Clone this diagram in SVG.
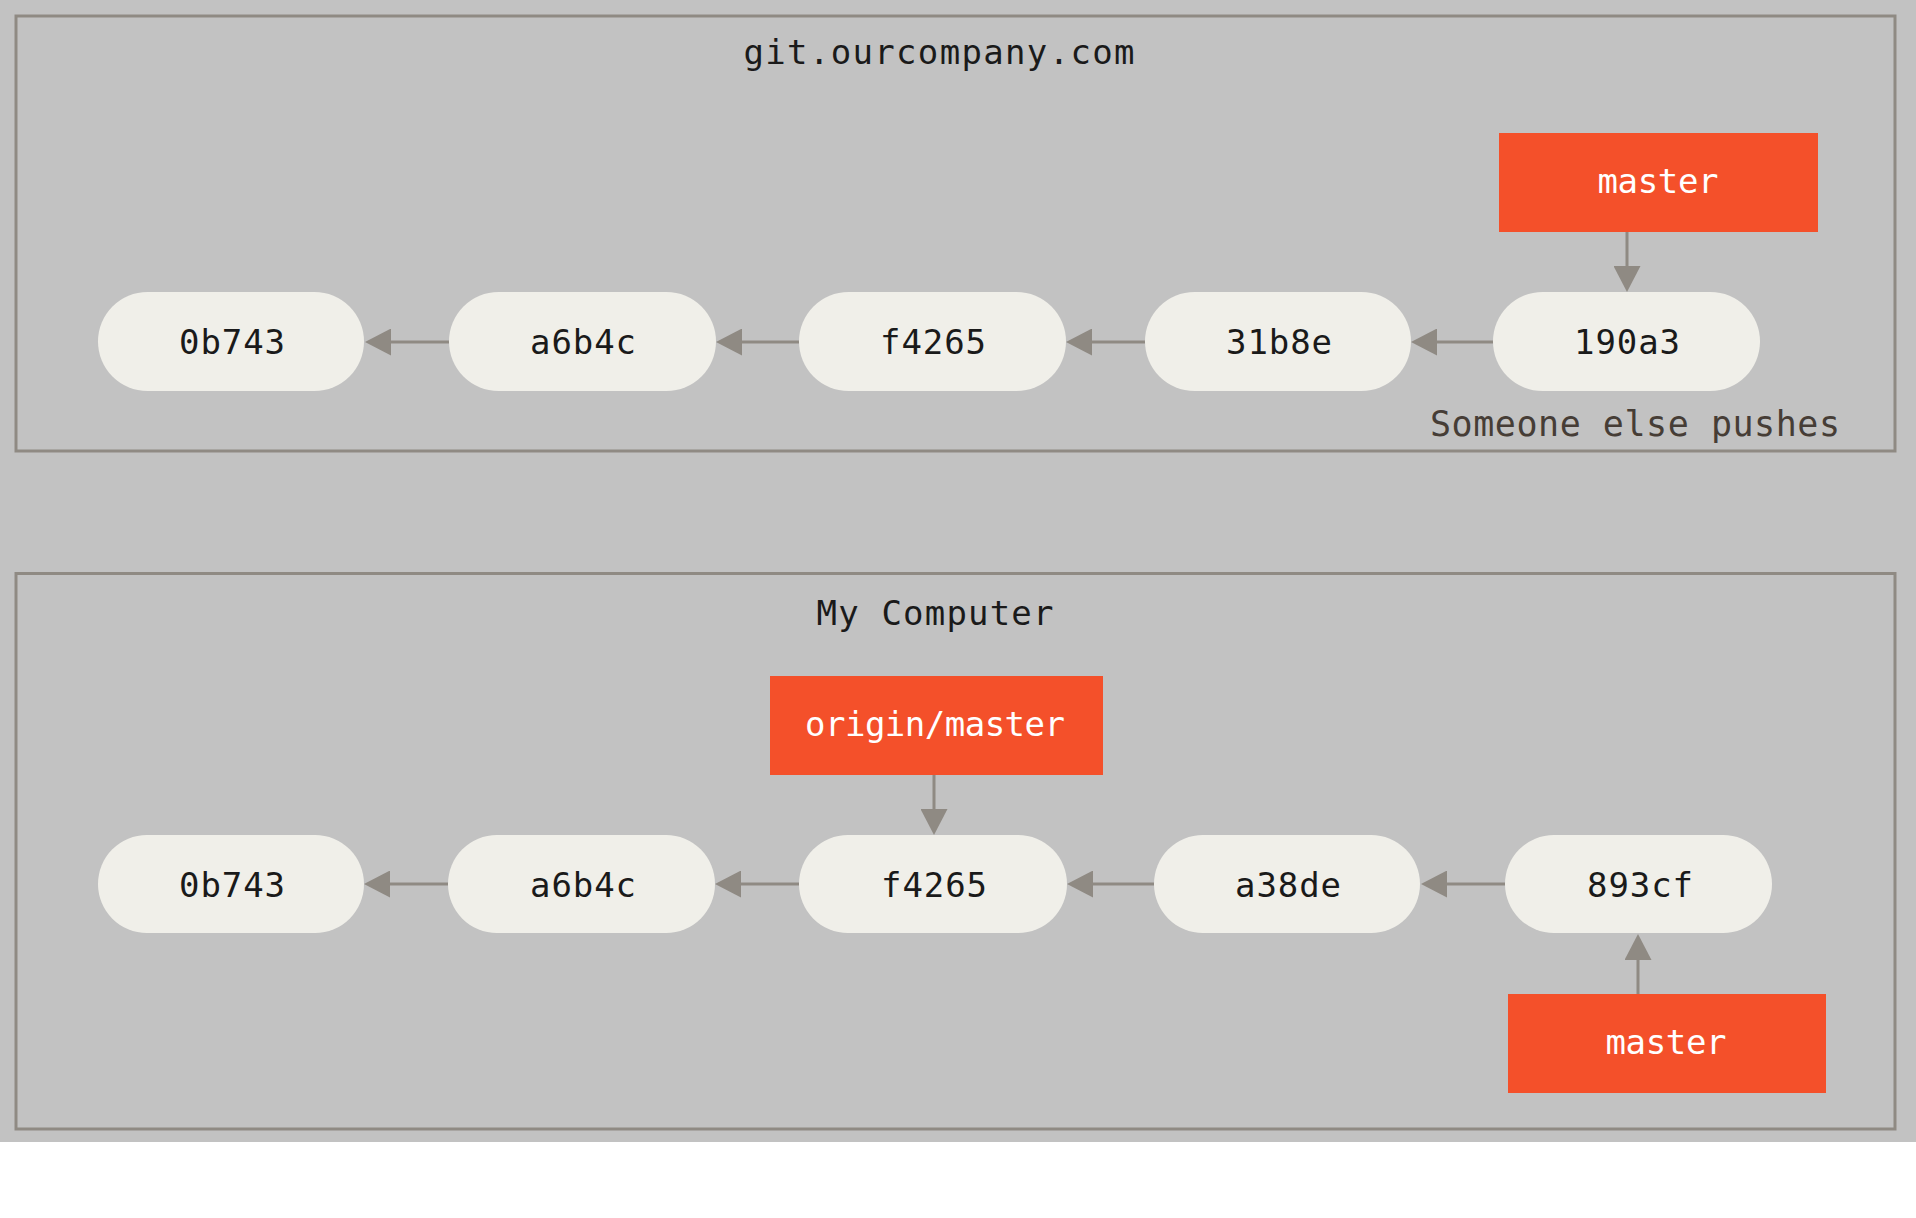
<svg xmlns="http://www.w3.org/2000/svg" width="1916" height="1218" viewBox="0 0 1916 1218">
<defs>
<style>
.frame{fill:none;stroke:#8f8a83;stroke-width:3}
.commit{fill:#f0efe9}
.ref{fill:#f4502a}
.lbl{font-family:"DejaVu Sans Mono","Liberation Mono",monospace;font-size:34px;fill:#1a1a1a;text-anchor:middle}
.wlbl{font-family:"DejaVu Sans Mono","Liberation Mono",monospace;font-size:34px;fill:#ffffff;text-anchor:middle}
.title{font-family:"DejaVu Sans Mono","Liberation Mono",monospace;font-size:34px;fill:#1a1a1a;text-anchor:middle}
.note{font-family:"DejaVu Sans Mono","Liberation Mono",monospace;font-size:35px;fill:#463d36;text-anchor:middle}
.conn{stroke:#8f8a83;stroke-width:3;fill:none}
</style>
<marker id="arr" viewBox="0 0 26 27" refX="0" refY="13.5" markerWidth="26" markerHeight="27" markerUnits="userSpaceOnUse" orient="auto">
<path d="M0,0 L26,13.5 L0,27 Z" fill="#8f8a83"/>
</marker>
</defs>
<rect x="0" y="0" width="1916" height="1142" fill="#c2c2c2"/>
<rect x="0" y="1142" width="1916" height="76" fill="#ffffff"/>

<g id="server">
<rect class="frame" x="16" y="16" width="1879" height="435"/>
<text class="title" x="939" y="64" textLength="391" lengthAdjust="spacing">git.ourcompany.com</text>
<text class="note" x="1635" y="436" textLength="410" lengthAdjust="spacing">Someone else pushes</text>
</g>
<g id="local">
<rect class="frame" x="16" y="573.5" width="1879" height="555.5"/>
<text class="title" x="935" y="625" textLength="237" lengthAdjust="spacing">My Computer</text>
</g>

<g id="connectors">
<line class="conn" x1="449" y1="342" x2="391" y2="342" marker-end="url(#arr)"/>
<line class="conn" x1="799" y1="342" x2="742" y2="342" marker-end="url(#arr)"/>
<line class="conn" x1="1145" y1="342" x2="1092" y2="342" marker-end="url(#arr)"/>
<line class="conn" x1="1493" y1="342" x2="1437" y2="342" marker-end="url(#arr)"/>
<line class="conn" x1="1627" y1="232" x2="1627" y2="266" marker-end="url(#arr)"/>
<line class="conn" x1="448" y1="884" x2="390" y2="884" marker-end="url(#arr)"/>
<line class="conn" x1="799" y1="884" x2="741" y2="884" marker-end="url(#arr)"/>
<line class="conn" x1="1154" y1="884" x2="1093" y2="884" marker-end="url(#arr)"/>
<line class="conn" x1="1505" y1="884" x2="1447" y2="884" marker-end="url(#arr)"/>
<line class="conn" x1="934" y1="775" x2="934" y2="809" marker-end="url(#arr)"/>
<line class="conn" x1="1638" y1="994" x2="1638" y2="960" marker-end="url(#arr)"/>
</g>

<g id="s-0b743"><rect class="commit" x="98" y="292" width="266" height="99" rx="49.5"/><text class="lbl" x="232" y="354" textLength="106" lengthAdjust="spacing">0b743</text></g>
<g id="s-a6b4c"><rect class="commit" x="449" y="292" width="267" height="99" rx="49.5"/><text class="lbl" x="583" y="354" textLength="106" lengthAdjust="spacing">a6b4c</text></g>
<g id="s-f4265"><rect class="commit" x="799" y="292" width="267" height="99" rx="49.5"/><text class="lbl" x="933" y="354" textLength="106" lengthAdjust="spacing">f4265</text></g>
<g id="s-31b8e"><rect class="commit" x="1145" y="292" width="266" height="99" rx="49.5"/><text class="lbl" x="1279" y="354" textLength="106" lengthAdjust="spacing">31b8e</text></g>
<g id="s-190a3"><rect class="commit" x="1493" y="292" width="267" height="99" rx="49.5"/><text class="lbl" x="1627" y="354" textLength="106" lengthAdjust="spacing">190a3</text></g>
<g id="s-master"><rect class="ref" x="1499" y="133" width="319" height="99"/><text class="wlbl" x="1658" y="193" textLength="121" lengthAdjust="spacing">master</text></g>

<g id="l-0b743"><rect class="commit" x="98" y="835" width="266" height="98" rx="49"/><text class="lbl" x="232" y="897" textLength="106" lengthAdjust="spacing">0b743</text></g>
<g id="l-a6b4c"><rect class="commit" x="448" y="835" width="267" height="98" rx="49"/><text class="lbl" x="583" y="897" textLength="106" lengthAdjust="spacing">a6b4c</text></g>
<g id="l-f4265"><rect class="commit" x="799" y="835" width="268" height="98" rx="49"/><text class="lbl" x="934" y="897" textLength="106" lengthAdjust="spacing">f4265</text></g>
<g id="l-a38de"><rect class="commit" x="1154" y="835" width="266" height="98" rx="49"/><text class="lbl" x="1288" y="897" textLength="106" lengthAdjust="spacing">a38de</text></g>
<g id="l-893cf"><rect class="commit" x="1505" y="835" width="267" height="98" rx="49"/><text class="lbl" x="1640" y="897" textLength="106" lengthAdjust="spacing">893cf</text></g>
<g id="l-origin-master"><rect class="ref" x="770" y="676" width="333" height="99"/><text class="wlbl" x="935" y="736" textLength="260" lengthAdjust="spacing">origin/master</text></g>
<g id="l-master"><rect class="ref" x="1508" y="994" width="318" height="99"/><text class="wlbl" x="1666" y="1054" textLength="121" lengthAdjust="spacing">master</text></g>
</svg>
